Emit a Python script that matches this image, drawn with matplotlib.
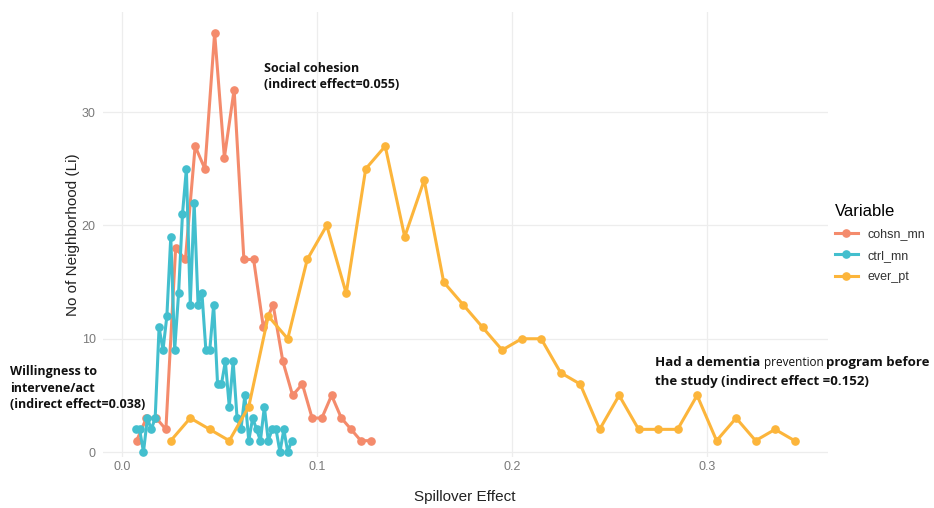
import numpy as np
import matplotlib.pyplot as plt
from matplotlib.ticker import MultipleLocator

# spillover effect per neighbourhood, binned counts for each mediator
cohsn_x = 0.0075 + 0.005 * np.arange(25)
cohsn_n = [1, 3, 3, 2, 18, 17, 27, 25, 37, 26, 32, 17, 17, 11, 13, 8, 5, 6, 3, 3, 5, 3, 2, 1, 1]

ctrl_x = 0.007 + 0.002 * np.arange(41)
ctrl_n = [2, 2, 0, 3, 2, 3, 11, 9, 12, 19, 9, 14, 21, 25, 13, 22, 13, 14, 9, 9, 13,
          6, 6, 8, 4, 8, 3, 2, 5, 1, 3, 2, 1, 4, 1, 2, 2, 0, 2, 0, 1]

ever_x = 0.025 + 0.01 * np.arange(33)
ever_n = [1, 3, 2, 1, 4, 12, 10, 17, 20, 14, 25, 27, 19, 24, 15, 13, 11, 9, 10, 10,
          7, 6, 2, 5, 2, 2, 2, 5, 1, 3, 1, 2, 1]

series = [("cohsn_mn", cohsn_x, cohsn_n, "#F48B6C"),
          ("ctrl_mn", ctrl_x, ctrl_n, "#43BFCE"),
          ("ever_pt", ever_x, ever_n, "#FCB53B")]

plt.rcParams["font.family"] = ["Liberation Sans", "DejaVu Sans"]

W, H = 934, 508
fig = plt.figure(figsize=(W / 100, H / 100), dpi=100)
ax = fig.add_axes([0.110, 0.1004, 0.776, 0.876])

for name, x, n, col in series:
    ax.plot(x, n, color=col, lw=2.2, marker="o", ms=5.2, label=name, zorder=3)

ax.set_xlim(-0.0099, 0.3619)
ax.set_ylim(-0.44, 38.85)
ax.xaxis.set_major_locator(MultipleLocator(0.1))
ax.yaxis.set_major_locator(MultipleLocator(10))
ax.set_xticks([0.0, 0.1, 0.2, 0.3], ["0.0", "0.1", "0.2", "0.3"])
ax.grid(which="major", color="#EDEDED", lw=0.9)
ax.set_axisbelow(True)
for s in ax.spines.values():
    s.set_visible(False)
ax.tick_params(which="both", length=0, labelsize=9, labelcolor="#7A7A7A")
ax.tick_params(axis="x", pad=3)
ax.tick_params(axis="y", pad=5)

ax.set_xlabel("Spillover Effect", fontsize=11, color="#222222", labelpad=12)
ax.set_ylabel("No of Neighborhood (Li)", fontsize=11, color="#222222", labelpad=1)

leg = ax.legend(title="Variable", loc="center left", bbox_to_anchor=(1.0, 0.48),
                frameon=False, fontsize=9, title_fontsize=12, handlelength=1.8,
                handletextpad=0.8, labelspacing=0.75, borderaxespad=0.2)
leg._legend_box.align = "left"
for t in leg.get_texts():
    t.set_color("#333333")

# annotations for each mediator
fam = ["Open Sans", "DejaVu Sans"]
ann = dict(fontsize=9, fontweight="bold", family=fam, color="#111111",
           va="top", linespacing=1.35)
fig.text(264 / W, 1 - 62 / H, "Social cohesion\n(indirect effect=0.055)", **ann)
fig.text(10 / W, 1 - 365 / H, "Willingness to\nintervene/act\n(indirect effect=0.038)", **ann)

big = dict(fontsize=9.5, fontweight="bold", family=fam, color="#111111", va="baseline")
fig.canvas.draw()
r = fig.canvas.get_renderer()
y1 = 1 - 366 / H
t1 = fig.text(655 / W, y1, "Had a dementia ", **big)
x2 = t1.get_window_extent(r).x1 / W
t2 = fig.text(x2, y1, "prevention ", fontsize=8.5, family=fam, color="#111111",
              va="baseline")
x3 = t2.get_window_extent(r).x1 / W
fig.text(x3, y1, "program before", **big)
fig.text(655 / W, 1 - 385 / H, "the study (indirect effect =0.152)", **big)

fig.savefig("out.png", dpi=100)
